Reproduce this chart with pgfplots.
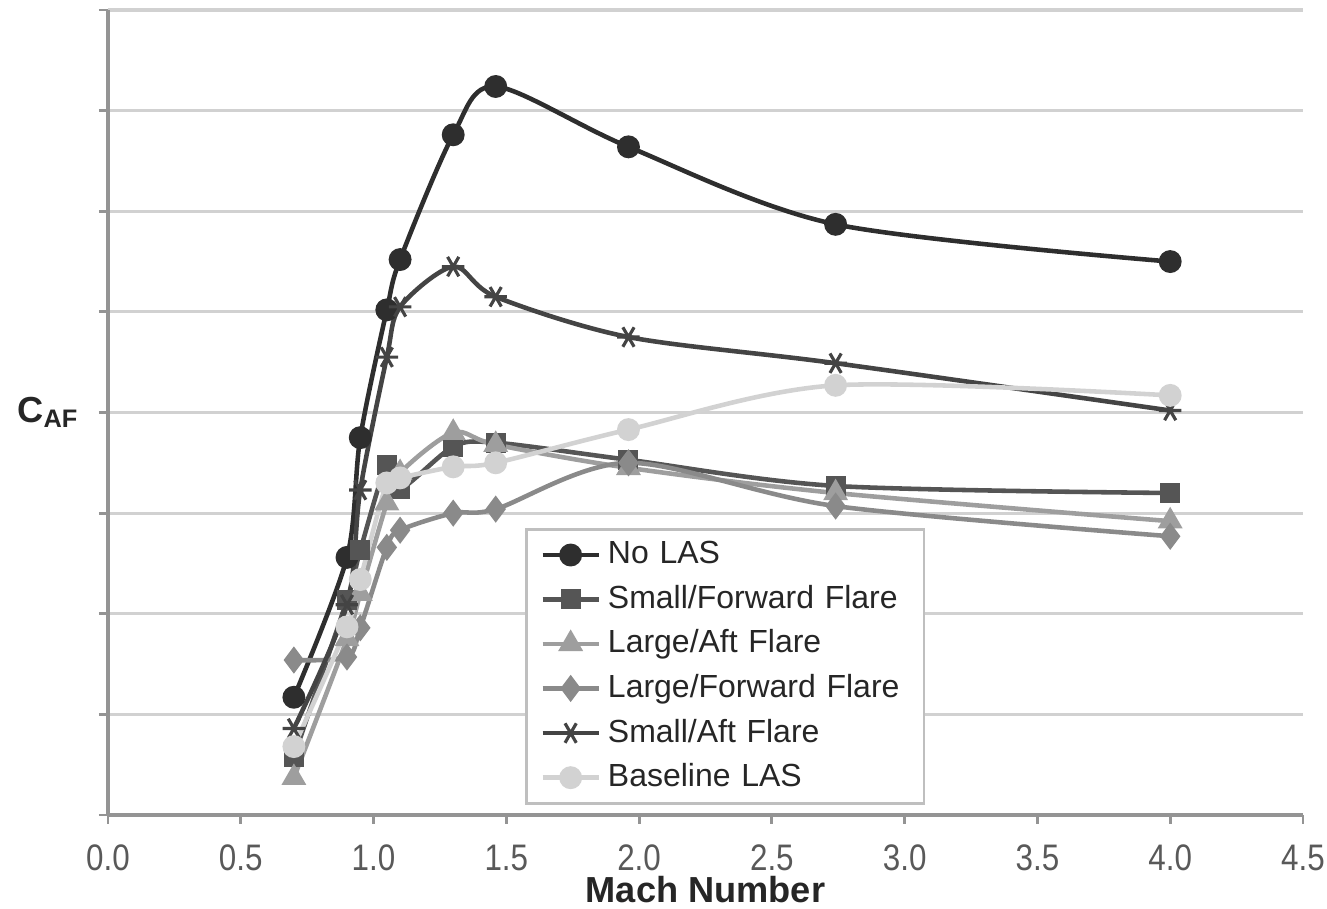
\documentclass[border=0pt]{standalone}
\usepackage{fontspec}
\setmainfont{Liberation Sans}
\newfontfamily\narrowfont[FakeStretch=0.85]{Liberation Sans}
\usepackage{pgfplots}
\pgfplotsset{compat=1.18}
\definecolor{cNo}{HTML}{2E2E2E}
\definecolor{cSF}{HTML}{555555}
\definecolor{cLA}{HTML}{9E9E9E}
\definecolor{cLF}{HTML}{8A8A8A}
\definecolor{cSA}{HTML}{444444}
\definecolor{cBL}{HTML}{D2D2D2}
\begin{document}
\begin{tikzpicture}
\begin{axis}[
  name=ax,
  at={(0,0)}, anchor=south west,
  scale only axis, width=11.95cm, height=8.05cm,
  xmin=0, xmax=4.5, ymin=0, ymax=8,
  xtick={0,0.5,...,4.5},
  ytick={0,1,...,8}, yticklabels={},
  xticklabel={\pgfmathprintnumber[fixed,fixed zerofill,precision=1]{\tick}},
  /pgf/number format/assume math mode=true,
  xticklabel style={font=\narrowfont\fontsize{10.5}{12}\selectfont, text=black!65},
  xticklabel shift=2.4pt,
  axis x line*=bottom, axis y line*=left,
  axis line style={black!42, line width=1pt, -},
  tick align=outside, major tick length=0.09cm,
  tick style={black!42, line width=0.8pt},
  ymajorgrids, grid style={black!18, line width=0.9pt},
  xlabel={Mach Number},
  xlabel style={font=\bfseries\fontsize{10.3}{12}\selectfont, at={(axis description cs:0.5,-0.093)}, anchor=center, text=black!85},
  ylabel={\bfseries C\textsubscript{AF}},
  ylabel style={rotate=-90, font=\fontsize{10.3}{12}\selectfont, at={(axis description cs:-0.05,0.5)}, anchor=center, text=black!85},
  legend style={at={(axis cs:1.57,2.85)}, anchor=north west, draw=black!25, line width=0.8pt,
    font=\fontsize{9.1}{10}\selectfont, text=black!85, row sep=0.6pt, inner xsep=4pt, inner ysep=1.3pt,
    text width=2.95cm},
  legend cell align=left,
  legend image code/.code={\draw[mark repeat=2,mark phase=2] plot coordinates {(0cm,0cm) (0.28cm,0cm) (0.56cm,0cm)};},
  every axis plot/.append style={line width=1.3pt, smooth, tension=0.5},
]
% No LAS
\addplot[cNo, mark=*, mark size=2.6pt, mark options={solid, fill=cNo}] coordinates {
(0.7,1.17) (0.9,2.56) (0.95,3.75) (1.05,5.02) (1.1,5.52) (1.3,6.76) (1.46,7.24) (1.96,6.64) (2.74,5.87) (4.0,5.50)};
\addlegendentry{No LAS}
% Small/Forward
\addplot[cSF, mark=square*, mark size=2.2pt, mark options={solid, fill=cSF}] coordinates {
(0.7,0.58) (0.9,2.14) (0.95,2.63) (1.05,3.48) (1.1,3.24) (1.3,3.66) (1.46,3.70) (1.96,3.53) (2.74,3.27) (4.0,3.20)};
\addlegendentry{Small/Forward Flare}
% Large/Aft
\addplot[cLA, mark=triangle*, mark size=2.8pt, mark options={solid, fill=cLA}] coordinates {
(0.7,0.37) (0.9,1.75) (0.95,2.2) (1.05,3.1) (1.1,3.4) (1.3,3.80) (1.46,3.68) (1.96,3.45) (2.74,3.20) (4.0,2.92)};
\addlegendentry{Large/Aft Flare}
% Large/Forward
\addplot[cLF, mark=diamond*, mark size=2.8pt, mark options={solid, fill=cLF}] coordinates {
(0.7,1.54) (0.9,1.57) (0.95,1.86) (1.05,2.66) (1.1,2.83) (1.3,3.00) (1.46,3.04) (1.96,3.50) (2.74,3.07) (4.0,2.77)};
\addlegendentry{Large/Forward Flare}
% Small/Aft
\addplot[cSA, mark=asterisk, mark size=3.2pt, mark options={solid, line width=0.9pt, rotate=90}] coordinates {
(0.7,0.86) (0.9,2.09) (0.95,3.23) (1.05,4.55) (1.1,5.05) (1.3,5.45) (1.46,5.15) (1.96,4.75) (2.74,4.49) (4.0,4.02)};
\addlegendentry{Small/Aft Flare}
% Baseline
\addplot[cBL, mark=*, mark size=2.6pt, mark options={solid, fill=cBL}] coordinates {
(0.7,0.68) (0.9,1.87) (0.95,2.34) (1.05,3.3) (1.1,3.35) (1.3,3.46) (1.46,3.50) (1.96,3.83) (2.74,4.27) (4.0,4.17)};
\addlegendentry{Baseline LAS}
\end{axis}
\pgfresetboundingbox
\path (-1.08,-0.94) rectangle (12.19,8.15);
\end{tikzpicture}
\end{document}
